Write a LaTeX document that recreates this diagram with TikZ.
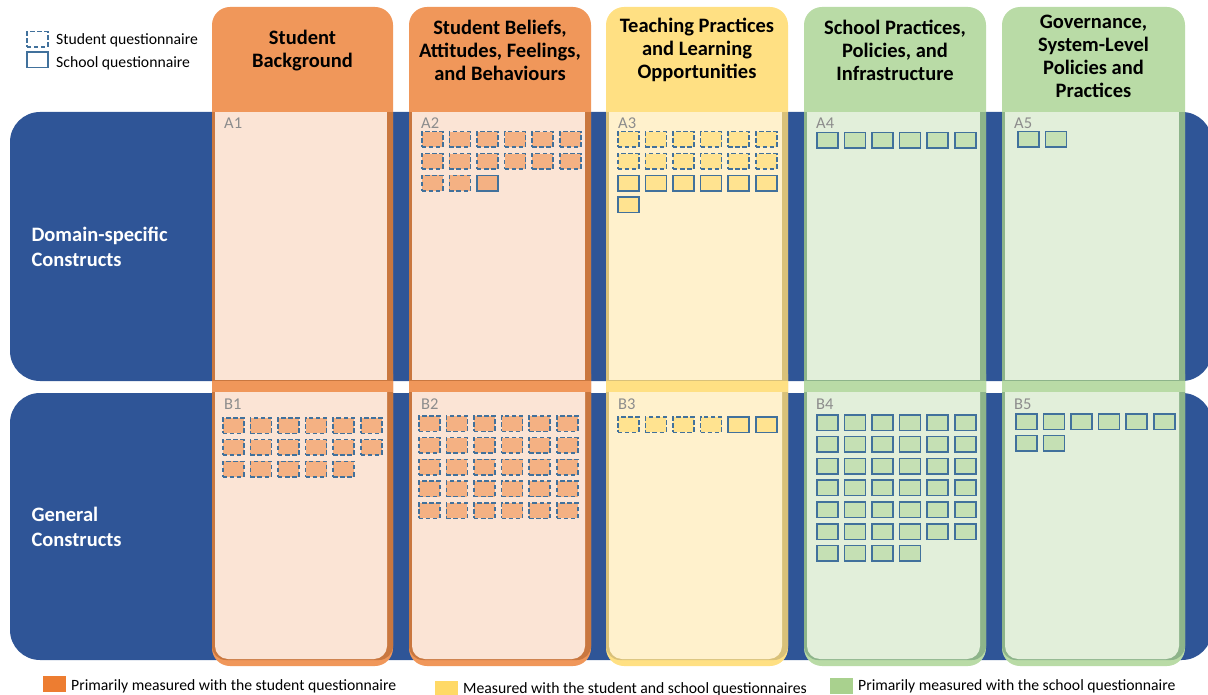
\documentclass[tikz,border=0pt]{standalone}
\usepackage{fontspec}
\setmainfont{Carlito}
\definecolor{band}{HTML}{2F5597}
\definecolor{qblue}{HTML}{41719C}
\definecolor{ohead}{HTML}{F0975A}
\definecolor{olight}{HTML}{FBE4D5}
\definecolor{odark}{HTML}{C9773F}
\definecolor{ofill}{HTML}{F4B183}
\definecolor{yhead}{HTML}{FFE083}
\definecolor{ylight}{HTML}{FFF1CC}
\definecolor{ydark}{HTML}{D9C179}
\definecolor{yfill}{HTML}{FFE390}
\definecolor{ghead}{HTML}{B9DBA6}
\definecolor{glight}{HTML}{E2EFDA}
\definecolor{gdark}{HTML}{8DB48A}
\definecolor{gfill}{HTML}{C5E0B4}
\definecolor{legor}{HTML}{ED7D31}
\definecolor{legye}{HTML}{FFD966}
\definecolor{leggr}{HTML}{A9D18E}
\definecolor{labgray}{HTML}{8C8C8C}
\tikzset{
  qbox/.style={draw=qblue, line width=1.5pt, minimum width=21pt, minimum height=15.5pt, inner sep=0pt, anchor=north west},
  stu/.style={qbox, dash pattern=on 4.5pt off 2.6pt},
  sch/.style={qbox},
  title/.style={font=\fontsize{20.5}{23}\selectfont\bfseries, align=center, text=black},
  rowlab/.style={font=\fontsize{20.5}{25}\selectfont\bfseries, align=left, text=white, anchor=west},
  cell/.style={font=\fontsize{16.5}{18}\selectfont, text=labgray, anchor=west, inner sep=0pt},
  legtext/.style={font=\fontsize{15.7}{17}\selectfont, anchor=west, inner sep=0pt},
  legsq/.style={minimum width=23pt, minimum height=16pt, inner sep=0pt, anchor=north west},
}
% #1 prefix, #2 L, #3 R, #4 colour prefix, #5 title y, #6 title, #7 label A, #8 label B
\newcommand\drawcol[8]{%
  \fill[#4head, rounded corners=18pt] (#2,7) rectangle (#3,666);
  \fill[#4dark, rounded corners=14pt] (#2,360) rectangle (#3,660);
  \fill[#4light, rounded corners=13pt] ({#2+3},360) rectangle ({#3-6},659);
  \fill[#4head] (#2,381) rectangle (#3,392);
  \fill[#4dark] (#2,112) rectangle (#3,381);
  \fill[#4light] ({#2+3},112) rectangle ({#3-6},380);
  \node[title] (#1t) at ({(#2+#3)/2},#5) {#6};
  \node[cell] (#1a) at ({#2+12},123) {#7};
  \node[cell] (#1b) at ({#2+12},404) {#8};
}
% #1 name, #2 x0, #3 y, #4 count, #5 style
\newcommand\boxrow[5]{%
  \foreach \i in {1,...,#4} {\node[#5] (#1-\i) at ({#2+(\i-1)*27.6},#3) {};}
}
\begin{document}
\begin{tikzpicture}[x=1pt,y=-1pt]
\useasboundingbox (0,0) rectangle (1208,695);
% bands
\fill[band, rounded corners=30pt] (10,112) rectangle (1212,381);
\fill[band, rounded corners=30pt] (10,393) rectangle (1212,660);
\node[rowlab] (rowA) at (28,247) {Domain-specific\\Constructs};
\node[rowlab] (rowB) at (28,527) {General\\Constructs};
% columns
\drawcol{c1}{212}{393}{o}{50.5}{Student\\Background}{A1}{B1}
\drawcol{c2}{409}{591}{o}{50}{Student Beliefs,\\Attitudes, Feelings,\\and Behaviours}{A2}{B2}
\drawcol{c3}{606}{788}{y}{50}{Teaching Practices\\and Learning\\Opportunities}{A3}{B3}
\drawcol{c4}{804}{986}{g}{50}{School Practices,\\Policies, and\\Infrastructure}{A4}{B4}
\drawcol{c5}{1002}{1185}{g}{56.5}{Governance,\\System-Level\\Policies and\\Practices}{A5}{B5}
% A2
\boxrow{aii1}{421}{131}{6}{stu,fill=ofill}
\boxrow{aii2}{421}{152.8}{6}{stu,fill=ofill}
\boxrow{aii3}{421}{174.6}{2}{stu,fill=ofill}
\node[sch,fill=ofill] (aii3-3) at (476.2,174.6) {};
% A3
\boxrow{aiii1}{617}{131}{6}{stu,fill=yfill}
\boxrow{aiii2}{617}{152.8}{6}{stu,fill=yfill}
\boxrow{aiii3}{617}{174.6}{6}{sch,fill=yfill}
\boxrow{aiii4}{617}{196.4}{1}{sch,fill=yfill}
% A4
\boxrow{aiv1}{816}{132}{6}{sch,fill=gfill}
% A5
\boxrow{av1}{1017}{131}{2}{sch,fill=gfill}
% B1
\boxrow{bi1}{222}{417}{6}{stu,fill=ofill}
\boxrow{bi2}{222}{438.8}{6}{stu,fill=ofill}
\boxrow{bi3}{222}{460.6}{5}{stu,fill=ofill}
% B2
\foreach \r in {1,...,5} {\boxrow{bii\r}{418}{{415+(\r-1)*21.8}}{6}{stu,fill=ofill}}
% B3
\boxrow{biii1}{617}{416}{4}{stu,fill=yfill}
\node[sch,fill=yfill] (biii1-5) at (727.4,416) {};
\node[sch,fill=yfill] (biii1-6) at (755,416) {};
% B4
\foreach \r in {1,...,6} {\boxrow{biv\r}{816}{{414+(\r-1)*21.8}}{6}{sch,fill=gfill}}
\boxrow{biv7}{816}{544.8}{4}{sch,fill=gfill}
% B5
\boxrow{bv1}{1015}{413}{6}{sch,fill=gfill}
\boxrow{bv2}{1015}{434.8}{2}{sch,fill=gfill}
% top legend
\node[stu] (lg1) at (26,31) {};
\node[legtext] (lg1t) at (56,40) {Student questionnaire};
\node[sch] (lg2) at (26,51.5) {};
\node[legtext] (lg2t) at (56,63) {School questionnaire};
% bottom legend
\node[legsq, fill=legor] (lb1) at (43,676) {};
\node[legtext] (lb1t) at (71,686) {Primarily measured with the student questionnaire};
\node[legsq, fill=legye, minimum height=14pt] (lb2) at (435,681) {};
\node[legtext] (lb2t) at (463,689) {Measured with the student and school questionnaires};
\node[legsq, fill=leggr] (lb3) at (830,678) {};
\node[legtext] (lb3t) at (858,686) {Primarily measured with the school questionnaire};
\end{tikzpicture}
\end{document}
